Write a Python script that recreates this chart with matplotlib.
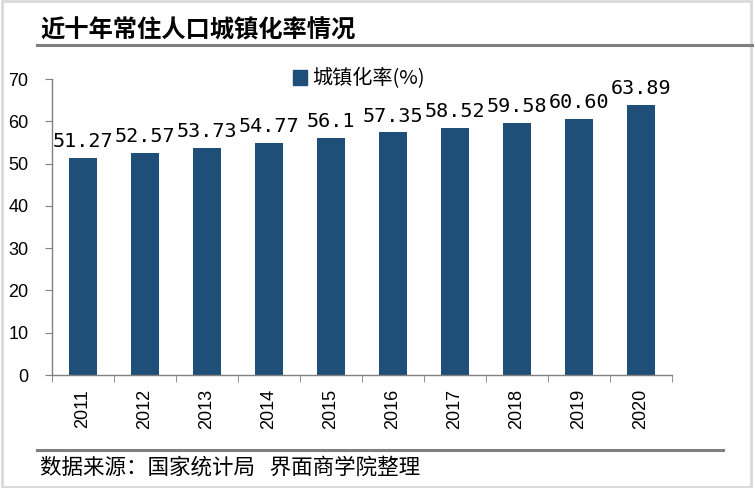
import matplotlib
matplotlib.use('Agg')
import matplotlib.pyplot as plt
from matplotlib.patches import Rectangle
from matplotlib.lines import Line2D

years = ['2011', '2012', '2013', '2014', '2015', '2016', '2017', '2018', '2019', '2020']
rates = [51.27, 52.57, 53.73, 54.77, 56.1, 57.35, 58.52, 59.58, 60.60, 63.89]
value_labels = ['51.27', '52.57', '53.73', '54.77', '56.1', '57.35', '58.52', '59.58', '60.60', '63.89']
title = '近十年常住人口城镇化率情况'
source = '数据来源：国家统计局   界面商学院整理'
series_name = '城镇化率(%)'

bar_color = '#1f4e79'
axis_gray = '#808080'
cjk = ['Noto Sans CJK SC', 'DejaVu Sans']

W, H = 755, 488
fig = plt.figure(figsize=(W / 100, H / 100), dpi=100)

# light frame round the whole picture
fig.patches.append(Rectangle((0.002, 0.003), 0.993, 0.994, transform=fig.transFigure,
                             fill=False, edgecolor='#d9d9d9', linewidth=2))

ax = fig.add_axes([52 / W, (H - 375) / H, 620 / W, 296 / H])
x = list(range(len(years)))
ax.bar(x, rates, width=0.45, color=bar_color, zorder=2)

for xi, v, lab in zip(x, rates, value_labels):
    ax.annotate(lab, (xi, v), xytext=(0, 5), textcoords='offset points',
                ha='center', va='bottom', fontsize=14.5, family='DejaVu Sans Mono')

ax.set_xlim(-0.5, len(years) - 0.5)
ax.set_ylim(0, 70)
ax.set_yticks(range(0, 71, 10))
ax.set_xticks(x)
ax.set_xticklabels(years, rotation=90, family='Liberation Sans', fontsize=13)
ax.set_xticks([i + 0.5 for i in range(-1, len(years))], minor=True)
ax.tick_params(axis='x', which='major', length=0, pad=10)
ax.tick_params(axis='x', which='minor', length=5, direction='out', color=axis_gray)
ax.tick_params(axis='y', length=5, direction='out', color=axis_gray, pad=12)
for t in ax.get_yticklabels():
    t.set_family('Liberation Sans')
    t.set_fontsize(13)

for s in ['top', 'right']:
    ax.spines[s].set_visible(False)
for s in ['left', 'bottom']:
    ax.spines[s].set_color(axis_gray)
    ax.spines[s].set_linewidth(1)

handle = Rectangle((0, 0), 1, 1, color=bar_color)
ax.legend([handle], [series_name], loc='center', bbox_to_anchor=(0.495, 1.0),
          frameon=False, handlelength=0.7, handleheight=0.7, handletextpad=0.25,
          prop={'family': cjk, 'size': 14.5})

# title and source with their rules
fig.text(40 / W, 1 - 31 / H, title, ha='left', va='center', fontsize=17.5,
         fontweight='bold', family=cjk)
fig.lines.append(Line2D([37 / W, 752 / W], [1 - 45 / H] * 2, transform=fig.transFigure,
                        color=axis_gray, linewidth=2.2))
fig.lines.append(Line2D([37 / W, 723 / W], [1 - 450 / H] * 2, transform=fig.transFigure,
                        color=axis_gray, linewidth=2.2))
fig.text(40 / W, 1 - 468 / H, source, ha='left', va='center', fontsize=15.5, family=cjk)

fig.savefig('out.png', dpi=100)
